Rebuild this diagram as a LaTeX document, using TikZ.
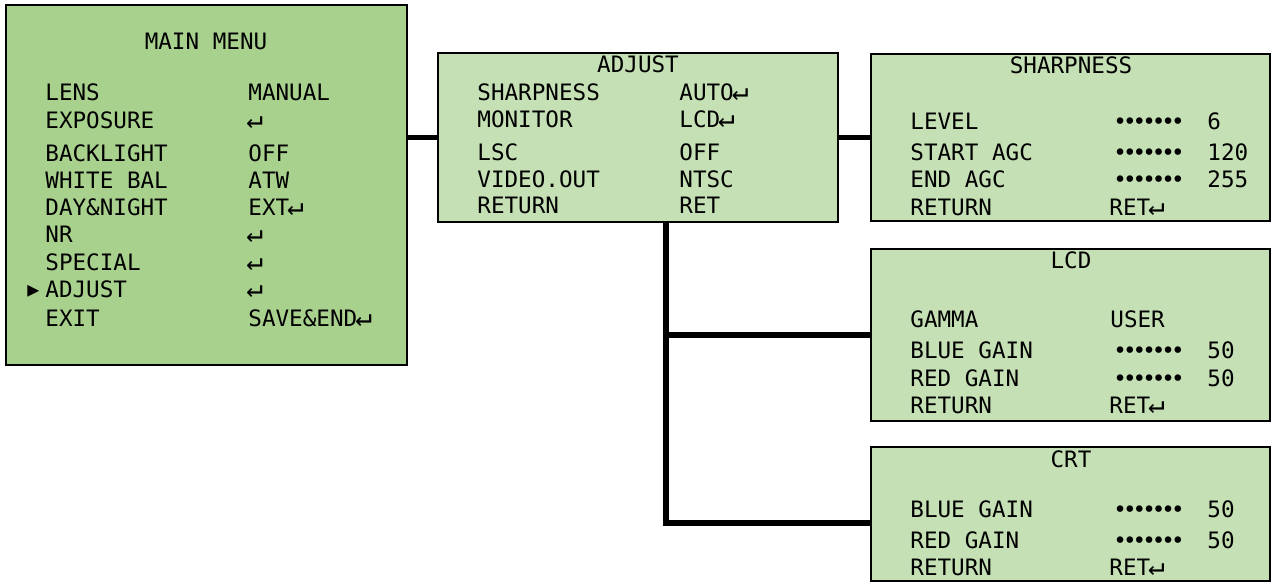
\documentclass[tikz,border=0pt]{standalone}
\usepackage{fontspec}
\setmainfont{DejaVu Sans Mono}
\usetikzlibrary{positioning}
\definecolor{menugreen}{HTML}{A9D18E}
\definecolor{subgreen}{HTML}{C5E0B4}
\newcommand{\gaugedots}{•\kern-2pt•\kern-2pt•\kern-2pt•\kern-2pt•\kern-2pt•\kern-2pt•}
\newcommand{\retkey}{{\fontsize{14}{14}\selectfont\kern-1pt↵}}

\begin{document}
\begin{tikzpicture}[x=0.5pt,y=-0.5pt,
  menubox/.style={draw,line width=1.1pt,inner sep=0pt},
  item/.style={anchor=base west,inner sep=0pt,font=\fontsize{11.3}{13}\selectfont},
  heading/.style={anchor=base,inner sep=0pt,font=\fontsize{11.3}{13}\selectfont},
  link/.style={line width=2.6pt}
]
  \useasboundingbox (0,0) rectangle (1272,583);

  % menu screens
  \node[menubox,fill=menugreen,minimum width=200.5pt,minimum height=180pt] (main) at (206.5,185) {};
  \node[menubox,fill=subgreen,minimum width=200pt,minimum height=84.5pt] (adjust) at (638,137.5) {};
  \node[menubox,fill=subgreen,minimum width=199.5pt,minimum height=83.5pt] (sharp) at (1070.5,137.5) {};
  \node[menubox,fill=subgreen,minimum width=199.5pt,minimum height=86pt] (lcd) at (1070.5,335) {};
  \node[menubox,fill=subgreen,minimum width=199.5pt,minimum height=67pt] (crt) at (1070.5,514) {};

  % main menu
  \node[heading] (mainttl) at (206,50) {MAIN MENU};
  \foreach \lbl/\val/\y [count=\i] in {LENS/MANUAL/100, EXPOSURE/\retkey/128, BACKLIGHT/OFF/161,
      WHITE BAL/ATW/188, DAY\&NIGHT/EXT\retkey/215, NR/\retkey/242, SPECIAL/\retkey/270,
      ADJUST/\retkey/297, EXIT/SAVE\&END\retkey/326}{
    \node[item] (ml\i) at (45,\y) {\lbl};
    \node[item] (mv\i) at (248,\y) {\val};
  }
  \node[item,font=\fontsize{10}{11}\selectfont] (cursor) at (27,296) {▶};

  % adjust
  \node[heading] (adjttl) at (638,73) {ADJUST};
  \foreach \lbl/\val/\y [count=\i] in {SHARPNESS/AUTO\retkey/101, MONITOR/LCD\retkey/127,
      LSC/OFF/160, VIDEO.OUT/NTSC/187, RETURN/RET/213}{
    \node[item] (al\i) at (477,\y) {\lbl};
    \node[item] (av\i) at (679,\y) {\val};
  }

  % sharpness
  \node[heading] (shpttl) at (1071,74) {SHARPNESS};
  \foreach \lbl/\num/\y [count=\i] in {LEVEL/6/129, START AGC/120/160, END AGC/255/187}{
    \node[item] (sl\i) at (910,\y) {\lbl};
    \node[item] (sg\i) at (1113,\y) {\gaugedots};
    \node[item] (sn\i) at (1207,\y) {\num};
  }
  \node[item] (sret) at (910,215) {RETURN};
  \node[item] (sretv) at (1109,215) {RET\retkey};

  % lcd
  \node[heading] (lcdttl) at (1071,268) {LCD};
  \node[item] (gamma) at (910,327) {GAMMA};
  \node[item] (gammav) at (1110,327) {USER};
  \foreach \lbl/\y [count=\i] in {BLUE GAIN/358, RED GAIN/386}{
    \node[item] (ll\i) at (910,\y) {\lbl};
    \node[item] (lg\i) at (1113,\y) {\gaugedots};
    \node[item] (ln\i) at (1207,\y) {50};
  }
  \node[item] (lret) at (910,413) {RETURN};
  \node[item] (lretv) at (1109,413) {RET\retkey};

  % crt
  \node[heading] (crtttl) at (1071,467) {CRT};
  \foreach \lbl/\y [count=\i] in {BLUE GAIN/517, RED GAIN/548}{
    \node[item] (cl\i) at (910,\y) {\lbl};
    \node[item] (cg\i) at (1113,\y) {\gaugedots};
    \node[item] (cn\i) at (1207,\y) {50};
  }
  \node[item] (cret) at (910,575) {RETURN};
  \node[item] (cretv) at (1109,575) {RET\retkey};

  % links
  \coordinate (tap) at (666,0);
  \coordinate (crtin) at ([yshift=-4.5pt]crt.west);
  \draw[link] (main.east |- adjust.west) -- (adjust.west);
  \draw[link] (adjust.east) -- (sharp.west);
  \draw[link] (tap |- adjust.south) -- (tap |- crtin) -- (crtin);
  \draw[link] (tap |- lcd.west) -- (lcd.west);
\end{tikzpicture}
\end{document}
